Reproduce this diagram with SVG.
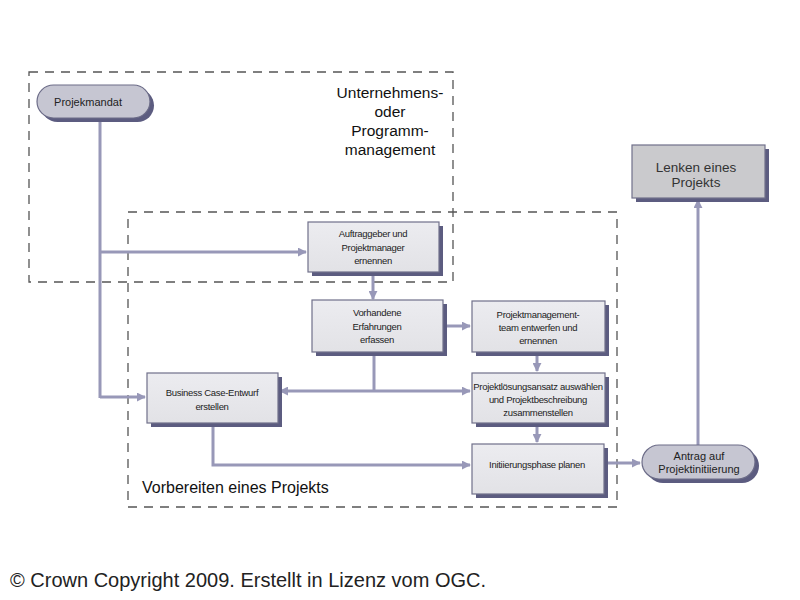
<svg xmlns="http://www.w3.org/2000/svg" width="800" height="600" viewBox="0 0 800 600">
<defs>
<marker id="arr" viewBox="0 0 10 10" refX="9" refY="5" markerWidth="3" markerHeight="3" orient="auto" markerUnits="strokeWidth">
<path d="M0,0 L10,5 L0,10 z" fill="#9898b8"/>
</marker>
<linearGradient id="boxg" x1="0" y1="0" x2="0" y2="1">
<stop offset="0" stop-color="#ececf0"/>
<stop offset="1" stop-color="#e2e2e6"/>
</linearGradient>
</defs>
<style>
.frame{fill:none;stroke:#555;stroke-width:1.3;stroke-dasharray:9,7}
.box{fill:url(#boxg);stroke:#70708a;stroke-width:1.2}
.shadow{fill:#5c5c80}
.pill{fill:#c6c6d2;stroke:#6c6c88;stroke-width:1.2}
.grey{fill:#cacacd;stroke:#70708a;stroke-width:1.2}
.conn{fill:none;stroke:#9898b8;stroke-width:3;marker-end:url(#arr)}
.line{fill:none;stroke:#9898b8;stroke-width:3}
.t{font-family:"Liberation Sans",Arial,sans-serif;font-size:9.5px;fill:#222;text-anchor:middle;dominant-baseline:central;letter-spacing:-0.3px}
.p{font-family:"Liberation Sans",Arial,sans-serif;font-size:11px;fill:#222;text-anchor:middle;dominant-baseline:central}
.big{font-family:"Liberation Sans",Arial,sans-serif;font-size:15.5px;fill:#111;text-anchor:middle}
.lab{font-family:"Liberation Sans",Arial,sans-serif;font-size:13.5px;fill:#333;text-anchor:middle;dominant-baseline:central}
</style>
<rect width="800" height="600" fill="#fff"/>

<g id="frames">
<rect class="frame" x="29" y="72" width="424" height="210"/>
<rect class="frame" x="128" y="212" width="489" height="295"/>
<text class="big" x="390" y="98">Unternehmens-</text>
<text class="big" x="390" y="117">oder</text>
<text class="big" x="390" y="136">Programm-</text>
<text class="big" x="390" y="155">management</text>
<text x="142" y="493" style="font-family:'Liberation Sans',Arial,sans-serif;font-size:16px;fill:#111">Vorbereiten eines Projekts</text>
</g>

<g id="connectors">
<path class="line" d="M100,118 V398"/>
<path class="conn" d="M100,252 H306"/>
<path class="conn" d="M100,397 H145"/>
<path class="conn" d="M373,272 V299"/>
<path class="conn" d="M443,326 H470"/>
<path class="conn" d="M537,352 V371"/>
<path class="conn" d="M537,423 V442"/>
<path class="line" d="M374,352 V391"/>
<path class="conn" d="M374,391 H280"/>
<path class="conn" d="M374,391 H470"/>
<path class="conn" d="M213,423 V465 H470"/>
<path class="conn" d="M604,463 H640"/>
<path class="conn" d="M698,445 V200"/>
</g>

<g id="projekmandat">
<rect class="shadow" x="41" y="89" width="113" height="33" rx="16.5"/>
<rect class="pill" x="37" y="85" width="113" height="33" rx="16.5"/>
<text class="p" x="88" y="102">Projekmandat</text>
</g>

<g id="auftraggeber">
<rect class="shadow" x="312" y="226" width="131" height="50"/>
<rect class="box" x="308" y="222" width="131" height="50"/>
<text class="t" x="373" y="233">Auftraggeber und</text>
<text class="t" x="373" y="247">Projektmanager</text>
<text class="t" x="373" y="260">ernennen</text>
</g>

<g id="vorhandene">
<rect class="shadow" x="316" y="304" width="131" height="52"/>
<rect class="box" x="312" y="300" width="131" height="52"/>
<text class="t" x="377" y="312">Vorhandene</text>
<text class="t" x="377" y="326">Erfahrungen</text>
<text class="t" x="377" y="339">erfassen</text>
</g>

<g id="team">
<rect class="shadow" x="476" y="305" width="133" height="51"/>
<rect class="box" x="472" y="301" width="133" height="51"/>
<text class="t" x="538" y="314">Projektmanagement-</text>
<text class="t" x="538" y="327">team entwerfen und</text>
<text class="t" x="538" y="340">ernennen</text>
</g>

<g id="loesung">
<rect class="shadow" x="476" y="377" width="133" height="50"/>
<rect class="box" x="472" y="373" width="133" height="50"/>
<text class="t" x="538" y="386">Projektlösungsansatz auswählen</text>
<text class="t" x="538" y="399">und Projektbeschreibung</text>
<text class="t" x="538" y="412">zusammenstellen</text>
</g>

<g id="initiierung">
<rect class="shadow" x="476" y="448" width="132" height="50"/>
<rect class="box" x="472" y="444" width="132" height="50"/>
<text class="t" x="537" y="464">Initiierungsphase planen</text>
</g>

<g id="businesscase">
<rect class="shadow" x="151" y="377" width="131" height="50"/>
<rect class="box" x="147" y="373" width="131" height="50"/>
<text class="t" x="212" y="392">Business Case-Entwurf</text>
<text class="t" x="212" y="406">erstellen</text>
</g>

<g id="antrag">
<rect class="shadow" x="646" y="449" width="113" height="34" rx="17"/>
<rect class="pill" x="642" y="445" width="113" height="34" rx="17"/>
<text class="p" x="699" y="456">Antrag auf</text>
<text class="p" x="699" y="469">Projektinitiierung</text>
</g>

<g id="lenken">
<rect class="shadow" x="636" y="149" width="133" height="53"/>
<rect class="grey" x="632" y="145" width="133" height="53"/>
<text class="lab" x="696" y="167">Lenken eines</text>
<text class="lab" x="696" y="182">Projekts</text>
</g>

<text x="10" y="587" style="font-family:'Liberation Sans',Arial,sans-serif;font-size:20px;fill:#222">© Crown Copyright 2009. Erstellt in Lizenz vom OGC.</text>
</svg>
